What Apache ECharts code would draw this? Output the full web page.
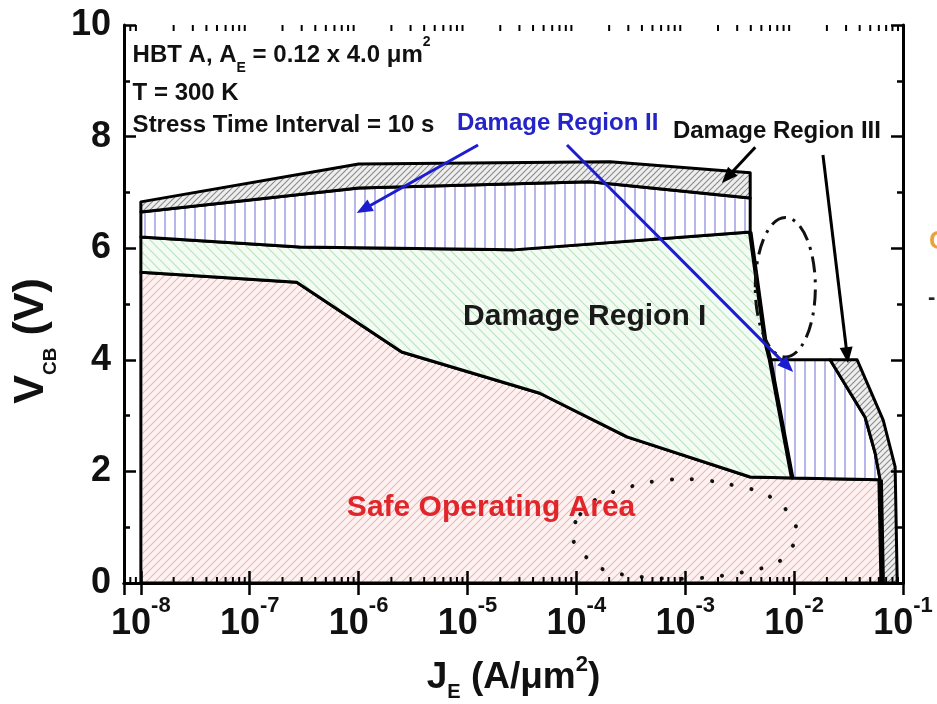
<!DOCTYPE html>
<html>
<head>
<meta charset="utf-8">
<script src="https://cdn.jsdelivr.net/npm/echarts@6/dist/echarts.min.js"></script>
<style>
html,body{margin:0;padding:0;background:#fff;}
#chart{width:937px;height:704px;}
</style>
</head>
<body>
<div id="chart"></div>
<script>
// Region boundaries: J_E in A/um^2, V_CB in V
const soaBoundary   = [[1e-8,5.57],[2.7e-7,5.39],[2.49e-6,4.14],[4.62e-5,3.40],[2.92e-4,2.62],[3.95e-3,1.90],[6.17e-2,1.85]];
const region1Top    = [[1e-8,6.20],[2.88e-7,6.02],[2.61e-5,5.97],[3.95e-3,6.29]];
const region1Edge   = [[3.95e-3,6.29],[5.41e-3,4.35],[6.01e-3,4.00],[9.6e-3,1.88]];
const region2Top    = [[1e-8,6.65],[1e-6,7.08],[1.33e-4,7.19],[3.95e-3,6.90]];
const region3Top    = [[1e-8,6.83],[1e-6,7.51],[2.04e-4,7.55],[3.95e-3,7.35]];
const region3Inner  = [[2.14e-2,4.00],[4.49e-2,2.97],[5.55e-2,2.33],[6.17e-2,1.85],[6.44e-2,0]];
const region3Outer  = [[3.79e-2,4.00],[6.58e-2,2.92],[8.47e-2,2.08],[8.85e-2,0]];

// Guide shapes and arrows
const dottedLoop = [[9.8e-5,1.09],[9.5e-5,0.73],[1.39e-4,0.38],[2.17e-4,0.18],[1.1e-3,0.08],[5.2e-3,0.27],
                    [8.2e-3,0.47],[1.06e-2,0.91],[8.2e-3,1.34],[5.2e-3,1.61],[3.3e-3,1.72],[1.37e-3,1.85],
                    [5.5e-4,1.83],[2.17e-4,1.63],[1.4e-4,1.45]];
const dashDotEllipse = [[8.3e-3,5.30,0.276,1.25]]; // centre J, centre V, half-width (decades), half-height (V)
const blueArrows  = [[1.25e-5,7.85,9.6e-7,6.63],[8.2e-5,7.85,9.8e-3,3.78]];
const blackArrows = [[4.4e-3,7.81,2.17e-3,7.17],[1.84e-2,7.67,3.13e-2,3.94]];

// Axis tick labels
const xTickExponents = [-8,-7,-6,-5,-4,-3,-2,-1];
const yTickValues = [0,2,4,6,8,10];
const xMinorDecades = [-9,-8,-7,-6,-5,-4,-3,-2];
const xMinorFactors = [2,3,4,5,6,7,8,9];

const FONT = '"Liberation Sans", Arial, Helvetica, sans-serif';

// Annotation texts anchored in data space (left edge, vertical middle)
const annotations = [
  {pos:[8.4e-9,9.46], text:'{t|HBT A, A}{sub|E}{t| = 0.12 x 4.0 \u03bcm}{sup|2}', color:'#111', size:24},
  {pos:[8.4e-9,8.78], text:'{t|T = 300 K}', color:'#111', size:24},
  {pos:[8.4e-9,8.21], text:'{t|Stress Time Interval = 10 s}', color:'#111', size:24},
  {pos:[8.0e-6,8.23], text:'{t|Damage Region II}', color:'#2424c8', size:24},
  {pos:[7.7e-4,8.09], text:'{t|Damage Region III}', color:'#111', size:24},
  {pos:[9.1e-6,4.78], text:'{t|Damage Region I}', color:'#1a1a1a', size:30},
  {pos:[7.8e-7,1.35], text:'{t|Safe Operating Area}', color:'#e0262b', size:30}
];

function reversed(a){ return a.slice().reverse(); }

// Polygons built from the shared boundaries
const soaPoly = [[1e-8,0]].concat(soaBoundary, [[6.44e-2,0]]);
const soaLeftPart = soaBoundary.filter(p => p[0] < 9.6e-3);
const region1Poly = region1Top.concat(region1Edge.slice(1), reversed(soaLeftPart));
const region2UpperPoly = region2Top.concat(reversed(region1Top));
const region2LowerPoly = [[6.01e-3,4.00]].concat(region3Inner.slice(0,4), [[9.6e-3,1.88]]);
const region3UpperPoly = region3Top.concat(reversed(region2Top));
const region3RightPoly = [region3Inner[0]].concat(region3Outer, reversed(region3Inner.slice(1)));

function hatch(bg, color, kind, step, lw) {
  const c = document.createElement('canvas');
  c.width = step; c.height = step;
  const g = c.getContext('2d');
  g.fillStyle = bg; g.fillRect(0, 0, step, step);
  g.strokeStyle = color; g.lineWidth = lw;
  g.beginPath();
  if (kind === 'v') {
    g.moveTo(step / 2, 0); g.lineTo(step / 2, step);
  } else if (kind === '/') {
    g.moveTo(-1, step + 1); g.lineTo(step + 1, -1);
    g.moveTo(-1, 1); g.lineTo(1, -1);
    g.moveTo(step - 1, step + 1); g.lineTo(step + 1, step - 1);
  } else {
    g.moveTo(-1, -1); g.lineTo(step + 1, step + 1);
    g.moveTo(step - 1, -1); g.lineTo(step + 1, 1);
    g.moveTo(-1, step - 1); g.lineTo(1, step + 1);
  }
  g.stroke();
  return {image: c, repeat: 'repeat'};
}

const fillSOA  = hatch('#fdf2f2', '#eab8b8', '/', 8, 1.1);
const fillI    = hatch('#f3fbf3', '#b9e4c0', '\\', 10, 1.2);
const fillII   = hatch('#ffffff', '#a4a4e6', 'v', 10, 1.6);
const fillIII  = hatch('#eeeeee', '#8a8a8a', '/', 6, 1.1);

function polygonSeries(poly, fill, lw) {
  return {
    type: 'custom', silent: true, z: 2,
    data: poly,
    renderItem: function (params, api) {
      if (params.dataIndex !== 0) return null;
      return {
        type: 'polygon',
        shape: {points: poly.map(p => api.coord(p))},
        style: {fill: fill, stroke: '#000', lineWidth: lw, lineJoin: 'round'}
      };
    }
  };
}

function lineSeries(pts, lw, z) {
  return {
    type: 'custom', silent: true, z: z,
    data: pts,
    renderItem: function (params, api) {
      if (params.dataIndex !== 0) return null;
      return {
        type: 'polyline',
        shape: {points: pts.map(p => api.coord(p))},
        style: {fill: null, stroke: '#000', lineWidth: lw, lineJoin: 'round'}
      };
    }
  };
}

function arrowSeries(list, color) {
  return {
    type: 'custom', silent: true, z: 6,
    data: list,
    encode: {x: [0, 2], y: [1, 3]},
    renderItem: function (params, api) {
      const a = api.coord([api.value(0), api.value(1)]);
      const b = api.coord([api.value(2), api.value(3)]);
      const dx = b[0] - a[0], dy = b[1] - a[1];
      const len = Math.hypot(dx, dy), ux = dx / len, uy = dy / len;
      const hl = 16, hw = 6.5;
      const bx = b[0] - ux * hl, by = b[1] - uy * hl;
      return {
        type: 'group',
        children: [
          {type: 'line', shape: {x1: a[0], y1: a[1], x2: bx + ux * 3, y2: by + uy * 3},
           style: {stroke: color, lineWidth: 3}},
          {type: 'polygon', shape: {points: [b, [bx - uy * hw, by + ux * hw], [bx + uy * hw, by - ux * hw]]},
           style: {fill: color}}
        ]
      };
    }
  };
}

const xMinorTicks = [];
xMinorDecades.forEach(d => xMinorFactors.forEach(f => {
  const v = f * Math.pow(10, d);
  if (v > 7e-9 && v < 0.1) xMinorTicks.push([v, 0]);
}));

const textRich = (size, color) => ({
  t:   {fontSize: size, fontWeight: 'bold', fontFamily: FONT, fill: color, lineHeight: 40},
  sub: {fontSize: 14, fontWeight: 'bold', fontFamily: FONT, fill: color, verticalAlign: 'bottom'},
  sup: {fontSize: 14, fontWeight: 'bold', fontFamily: FONT, fill: color, verticalAlign: 'top'}
});

const axisLineStyle = {color: '#000', width: 3};
const tickStyle = {color: '#000', width: 2.5};

function xLabel(v) {
  const e = Math.log10(v);
  const k = xTickExponents.find(x => Math.abs(x - e) < 1e-6);
  return k === undefined ? '' : '{b|10}{s|' + k + '}';
}

const option = {
  animation: false,
  backgroundColor: '#fff',
  grid: {left: 124, top: 25, right: 34, bottom: 121, containLabel: false, outerBoundsMode: 'none'},
  xAxis: [
    {
      type: 'log', logBase: 10, min: 7e-9, max: 0.1, position: 'bottom', z: 10, splitNumber: 10,
      axisLine: {show: true, lineStyle: axisLineStyle},
      axisTick: {show: true, inside: true, length: 12, lineStyle: tickStyle},
      minorTick: {show: false},
      splitLine: {show: false},
      axisLabel: {
        margin: 12, formatter: xLabel, color: '#111',
        rich: {
          b: {fontSize: 36, fontWeight: 'bold', fontFamily: FONT, color: '#111', lineHeight: 58},
          s: {fontSize: 22, fontWeight: 'bold', fontFamily: FONT, color: '#111', verticalAlign: 'top'}
        }
      },
      name: '{t|J}{s|E}{t| (A/\u03bcm}{p|2}{t|)}',
      nameLocation: 'middle', nameGap: 71,
      nameTextStyle: {
        rich: {
          t: {fontSize: 37, fontWeight: 'bold', fontFamily: FONT, color: '#111', lineHeight: 48},
          s: {fontSize: 20, fontWeight: 'bold', fontFamily: FONT, color: '#111', verticalAlign: 'bottom'},
          p: {fontSize: 22, fontWeight: 'bold', fontFamily: FONT, color: '#111', verticalAlign: 'top'}
        }
      }
    },
    {
      type: 'log', logBase: 10, min: 7e-9, max: 0.1, position: 'top', z: 10, splitNumber: 10,
      axisLine: {show: true, lineStyle: axisLineStyle},
      axisTick: {show: true, inside: true, length: 12, lineStyle: tickStyle},
      axisLabel: {show: false},
      splitLine: {show: false}
    }
  ],
  yAxis: [
    {
      type: 'value', min: 0, max: 10, interval: 2, position: 'left', z: 10,
      axisLine: {show: true, lineStyle: axisLineStyle},
      axisTick: {show: true, inside: true, length: 12, lineStyle: tickStyle},
      minorTick: {show: true, splitNumber: 2, length: 6, lineStyle: tickStyle},
      splitLine: {show: false},
      axisLabel: {
        margin: 13, fontSize: 36, fontWeight: 'bold', fontFamily: FONT, color: '#111',
        formatter: v => (yTickValues.indexOf(v) >= 0 ? String(v) : '')
      },
      name: '{t|V}{s|CB}{t| (V)}',
      nameLocation: 'middle', nameRotate: 90, nameGap: 62,
      nameTextStyle: {
        padding: [0, 74, 0, 0],
        rich: {
          t: {fontSize: 43, fontWeight: 'bold', fontFamily: FONT, color: '#111', lineHeight: 58},
          s: {fontSize: 19, fontWeight: 'bold', fontFamily: FONT, color: '#111', verticalAlign: 'bottom'}
        }
      }
    },
    {
      type: 'value', min: 0, max: 10, interval: 2, position: 'right', z: 10,
      axisLine: {show: true, lineStyle: axisLineStyle},
      axisTick: {show: true, inside: true, length: 12, lineStyle: tickStyle},
      minorTick: {show: true, splitNumber: 2, length: 6, lineStyle: tickStyle},
      splitLine: {show: false},
      axisLabel: {show: false}
    }
  ],
  series: [
    polygonSeries(soaPoly, fillSOA, 3),
    polygonSeries(region1Poly, fillI, 3),
    polygonSeries(region2UpperPoly, fillII, 3),
    polygonSeries(region2LowerPoly, fillII, 3),
    polygonSeries(region3UpperPoly, fillIII, 3),
    polygonSeries(region3RightPoly, fillIII, 3),
    lineSeries(region1Edge, 4.5, 4),
    lineSeries(region3Inner.slice(3), 5.5, 4),
    {
      // dotted guide loop
      type: 'custom', silent: true, z: 5, data: dottedLoop,
      renderItem: function (params, api) {
        if (params.dataIndex !== 0) return null;
        return {
          type: 'polygon',
          shape: {points: dottedLoop.map(p => api.coord(p)), smooth: 0.35},
          style: {fill: null, stroke: '#111', lineWidth: 4, lineCap: 'round', lineDash: [0.1, 20]}
        };
      }
    },
    {
      // dash-dot guide ellipse
      type: 'custom', silent: true, z: 5, data: dashDotEllipse,
      renderItem: function (params, api) {
        const j = api.value(0), v = api.value(1);
        const c = api.coord([j, v]);
        const rx = api.coord([j * Math.pow(10, api.value(2)), v])[0] - c[0];
        const ry = c[1] - api.coord([j, v + api.value(3)])[1];
        return {
          type: 'ellipse',
          shape: {cx: c[0], cy: c[1], rx: rx, ry: ry},
          style: {fill: null, stroke: '#111', lineWidth: 3, lineDash: [16, 7, 3, 7]}
        };
      }
    },
    arrowSeries(blueArrows, '#1d1dd0'),
    arrowSeries(blackArrows, '#000'),
    {
      // log minor ticks on bottom and top frame
      type: 'custom', silent: true, z: 11, data: xMinorTicks,
      renderItem: function (params, api) {
        const j = api.value(0);
        const b = api.coord([j, 0]);
        const t = api.coord([j, 10]);
        return {
          type: 'group',
          children: [
            {type: 'line', shape: {x1: b[0], y1: b[1], x2: b[0], y2: b[1] - 6}, style: {stroke: '#000', lineWidth: 2}},
            {type: 'line', shape: {x1: t[0], y1: t[1], x2: t[0], y2: t[1] + 6}, style: {stroke: '#000', lineWidth: 2}}
          ]
        };
      }
    },
    {
      // in-plot annotations
      type: 'custom', silent: true, z: 8, data: annotations.map(a => a.pos),
      renderItem: function (params, api) {
        const a = annotations[params.dataIndex];
        const p = api.coord([api.value(0), api.value(1)]);
        return {
          type: 'text', x: p[0], y: p[1],
          style: {
            text: a.text, rich: textRich(a.size, a.color), fill: a.color,
            align: 'left', verticalAlign: 'middle',
            textAlign: 'left', textVerticalAlign: 'middle'
          }
        };
      }
    }
  ],
  graphic: [
    {type: 'text', left: 929, top: 229, silent: true,
     style: {text: 'C', fill: '#e6a43c', font: 'bold 26px ' + FONT}},
    {type: 'text', left: 928, top: 287, silent: true,
     style: {text: '-', fill: '#222', font: 'bold 22px ' + FONT}}
  ]
};

const chart = echarts.init(document.getElementById('chart'), null, {renderer: 'canvas'});
chart.setOption(option);
</script>
</body>
</html>
